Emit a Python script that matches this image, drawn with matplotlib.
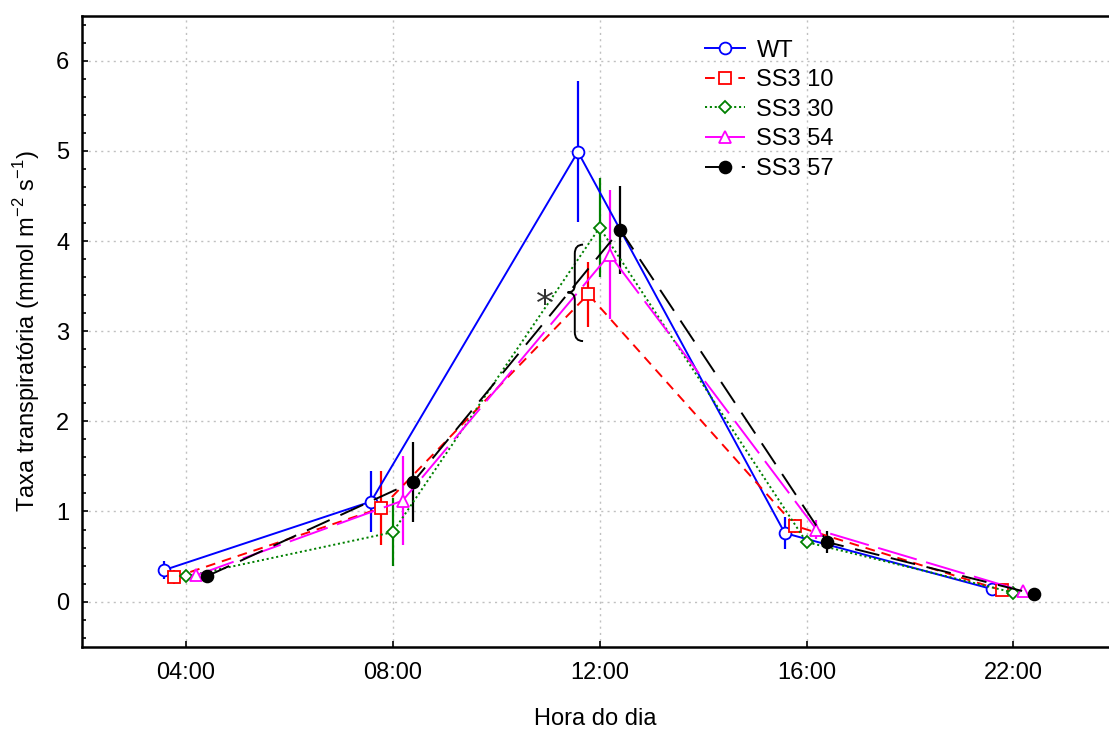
import matplotlib
matplotlib.use("Agg")
import matplotlib.pyplot as plt
import numpy as np
from matplotlib.path import Path
from matplotlib.patches import PathPatch
from matplotlib.ticker import MultipleLocator

plt.rcParams['font.family'] = ['Liberation Sans', 'DejaVu Sans']
plt.rcParams['lines.scale_dashes'] = False
plt.rcParams['mathtext.fontset'] = 'custom'
plt.rcParams['mathtext.rm'] = 'Liberation Sans'

hours = ["04:00", "08:00", "12:00", "16:00", "22:00"]
series_names = ["WT", "SS3 10", "SS3 30", "SS3 54", "SS3 57"]

wt_mean = [0.35, 1.11, 4.99, 0.76, 0.14]
wt_err = [0.10, 0.34, 0.78, 0.18, 0.03]
ss10_mean = [0.27, 1.04, 3.41, 0.84, 0.125]
ss10_err = [0.08, 0.41, 0.36, 0.08, 0.03]
ss30_mean = [0.28, 0.77, 4.15, 0.66, 0.10]
ss30_err = [0.04, 0.38, 0.55, 0.05, 0.02]
ss54_mean = [0.29, 1.12, 3.85, 0.80, 0.115]
ss54_err = [0.05, 0.49, 0.72, 0.10, 0.03]
ss57_mean = [0.28, 1.33, 4.125, 0.66, 0.085]
ss57_err = [0.04, 0.445, 0.49, 0.12, 0.02]

means = [wt_mean, ss10_mean, ss30_mean, ss54_mean, ss57_mean]
errs = [wt_err, ss10_err, ss30_err, ss54_err, ss57_err]
offsets = [-0.105, -0.055, 0.0, 0.048, 0.10]
colors = ["#0000ff", "#ff0000", "#008000", "#ff00ff", "#000000"]
markers = ["o", "s", "D", "^", "o"]
msizes = [8.5, 8, 6.5, 8.5, 8.5]
faces = ["white", "white", "white", "white", "black"]
dashes = [None, (0, (7, 5)), (0, (1.5, 2)), (0, (29, 7)), (0, (18, 8.5))]

# significance brace annotation (12:00)
brace_top, brace_bottom, brace_mid = 3.96, 2.89, 3.43
brace_x = 1.88

FS = 17

fig = plt.figure(figsize=(11.09, 7.29), dpi=100)
ax = fig.add_axes([0.0739, 0.1129, 0.9261, 0.8656])

x = np.arange(len(hours))
for name, m, e, off, c, mk, ms, fc, ds in zip(series_names, means, errs, offsets,
                                              colors, markers, msizes, faces, dashes):
    xs = x + off
    ls = '-' if ds is None else ds
    ax.errorbar(xs, m, yerr=e, fmt='none', ecolor=c, elinewidth=1.6, capsize=0, zorder=2)
    ax.plot(xs, m, color=c, linestyle=ls, linewidth=1.4, marker=mk, markersize=ms,
            markerfacecolor=fc, markeredgecolor=c, markeredgewidth=1.3, label=name, zorder=3)

# brace
xr, xv, xt = brace_x + 0.04, brace_x, brace_x - 0.035
verts = [(xr, brace_top), (xv, brace_top), (xv, brace_top - 0.1),
         (xv, brace_mid + 0.08),
         (xv, brace_mid), (xt, brace_mid),
         (xv, brace_mid), (xv, brace_mid - 0.08),
         (xv, brace_bottom + 0.1),
         (xv, brace_bottom), (xr, brace_bottom)]
codes = [Path.MOVETO, Path.CURVE3, Path.CURVE3, Path.LINETO,
         Path.CURVE3, Path.CURVE3, Path.CURVE3, Path.CURVE3,
         Path.LINETO, Path.CURVE3, Path.CURVE3]
ax.add_patch(PathPatch(Path(verts, codes), facecolor='none', edgecolor='black', lw=1.4, zorder=4))
ax.text(brace_x - 0.1, brace_mid - 0.14, "*", fontsize=26, ha='right', va='center',
        family='DejaVu Sans', color='#333333')

ax.set_xlim(-0.502, 4.462)
ax.set_ylim(-0.5, 6.5)
ax.set_xticks(x)
ax.set_xticklabels(hours)
ax.yaxis.set_major_locator(MultipleLocator(1))
ax.yaxis.set_minor_locator(MultipleLocator(0.2))
ax.set_yticks(range(0, 7))
ax.tick_params(axis='both', which='both', direction='in', labelsize=FS)
ax.tick_params(axis='y', which='major', pad=9)
ax.tick_params(axis='x', which='major', pad=11)
ax.tick_params(axis='both', which='major', length=4, width=1.2)
ax.tick_params(axis='y', which='minor', length=3, width=1.2)
ax.tick_params(axis='x', which='minor', bottom=False)
ax.grid(True, which='major', linestyle=(0, (1.5, 3)), color='#c0c0c0', linewidth=1.0)
ax.set_axisbelow(True)
for s in ax.spines.values():
    s.set_linewidth(1.8)
ax.spines['right'].set_visible(False)

ax.set_xlabel("Hora do dia", fontsize=FS, labelpad=17)
ax.set_ylabel("Taxa transpiratória (mmol m$^{\\mathregular{-2}}$ s$^{\\mathregular{-1}}$)",
              fontsize=FS, labelpad=10)

leg = ax.legend(loc='upper left', bbox_to_anchor=(0.597, 0.977), frameon=False,
                fontsize=FS, handlelength=1.7, handletextpad=0.5, labelspacing=0.32,
                borderaxespad=0.0)

fig.savefig("out.png", dpi=100)
